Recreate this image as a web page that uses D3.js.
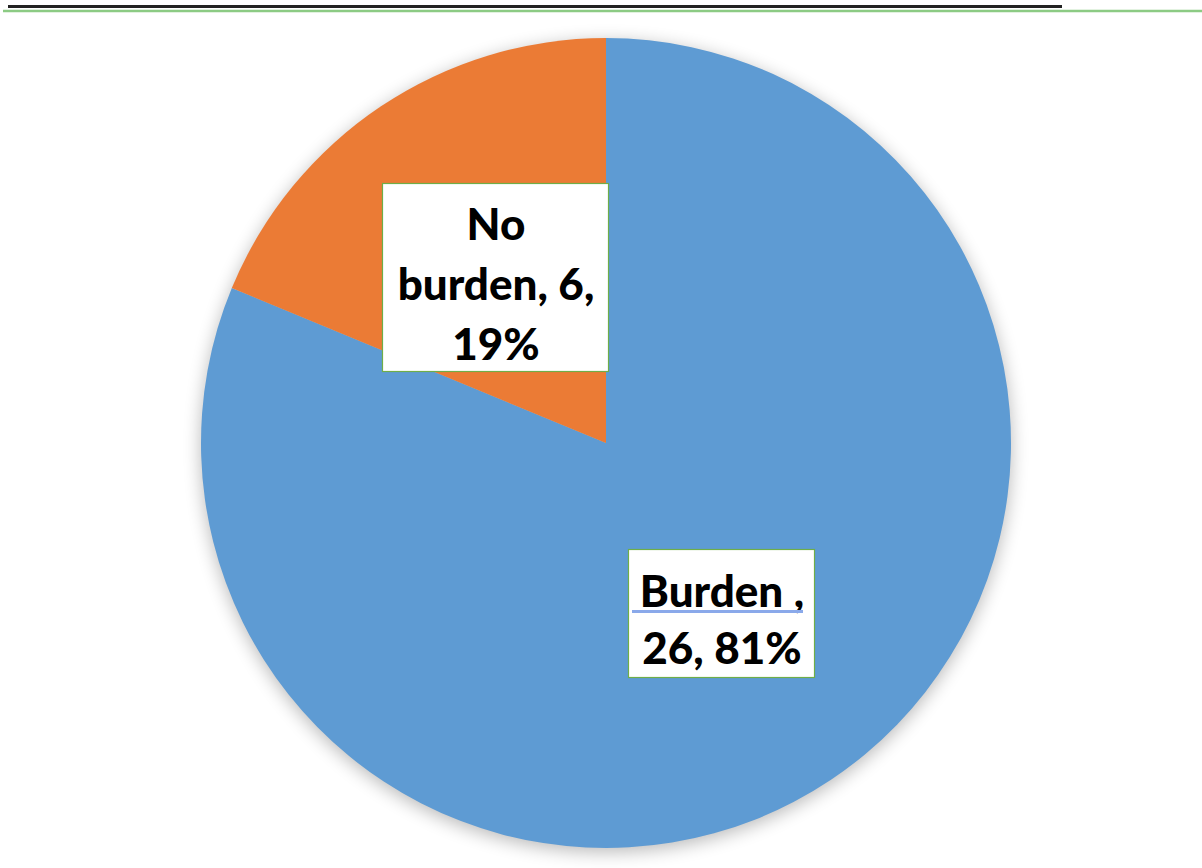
<!DOCTYPE html>
<html><head><meta charset="utf-8">
<script src="https://cdn.jsdelivr.net/npm/d3@7"></script>
<style>html,body{margin:0;padding:0;background:#fff;}svg{display:block;}</style>
</head><body>
<svg id="c" width="1202" height="868"></svg>
<script>
const categories = ["Burden", "No burden"];
const counts = [26, 6];
const percents = ["81%", "19%"];
const colors = ["#5E9BD3", "#EB7B35"];
const labelLines = [["Burden ,", "26, 81%"], ["No", "burden, 6,", "19%"]];

const svg = d3.select("#c");
const W = 1202, H = 868;
const cx = 606, cy = 443, R = 405;

// top rules
svg.append("line").attr("x1", 8).attr("x2", 1062).attr("y1", 6.5).attr("y2", 6.5)
  .attr("stroke", "#222").attr("stroke-width", 2.8);
svg.append("line").attr("x1", 3).attr("x2", W).attr("y1", 11).attr("y2", 11)
  .attr("stroke", "#8CCB84").attr("stroke-width", 2.4);

const defs = svg.append("defs");
const f = defs.append("filter").attr("id", "sh").attr("x", "-20%").attr("y", "-20%").attr("width", "140%").attr("height", "140%");
f.append("feGaussianBlur").attr("in", "SourceAlpha").attr("stdDeviation", 9);
f.append("feComponentTransfer").append("feFuncA").attr("type", "linear").attr("slope", 0.28);

const g = svg.append("g").attr("transform", `translate(${cx},${cy})`);
const pie = d3.pie().sort(null).value(d => d)(counts);
const arc = d3.arc().innerRadius(0).outerRadius(R);

g.append("circle").attr("r", R).attr("cx", 0).attr("cy", 4).attr("fill", "#000").attr("filter", "url(#sh)");
g.selectAll("path.s").data(pie).join("path").attr("class", "s")
  .attr("d", arc).attr("fill", (d, i) => colors[i]);

// labels
const boxes = [
  {x: 628, y: 549, w: 186, h: 128, lh: 57, y0: 607},
  {x: 382, y: 183, w: 226, h: 188, lh: 60, y0: 240}
];
const lg = svg.append("g");
boxes.forEach((b, i) => {
  lg.append("rect").attr("x", b.x + 0.5).attr("y", b.y + 0.5).attr("width", b.w).attr("height", b.h)
    .attr("fill", "#fff").attr("stroke", "#6FAE48").attr("stroke-width", 1.2);
  const mx = b.x + b.w / 2 + 1;
  labelLines[i].forEach((t, j) => {
    lg.append("text").attr("x", mx).attr("y", b.y0 + j * b.lh)
      .attr("text-anchor", "middle")
      .attr("font-family", "Lato, 'Open Sans', sans-serif")
      .attr("font-weight", 900).attr("font-size", 44)
      .attr("fill", "#000").text(t);
  });
});
// spell-check style underline under "Burden"
lg.append("line").attr("x1", 632).attr("x2", 803).attr("y1", 611.5).attr("y2", 611.5)
  .attr("stroke", "#8AA9EA").attr("stroke-width", 3);
</script>
</body></html>
